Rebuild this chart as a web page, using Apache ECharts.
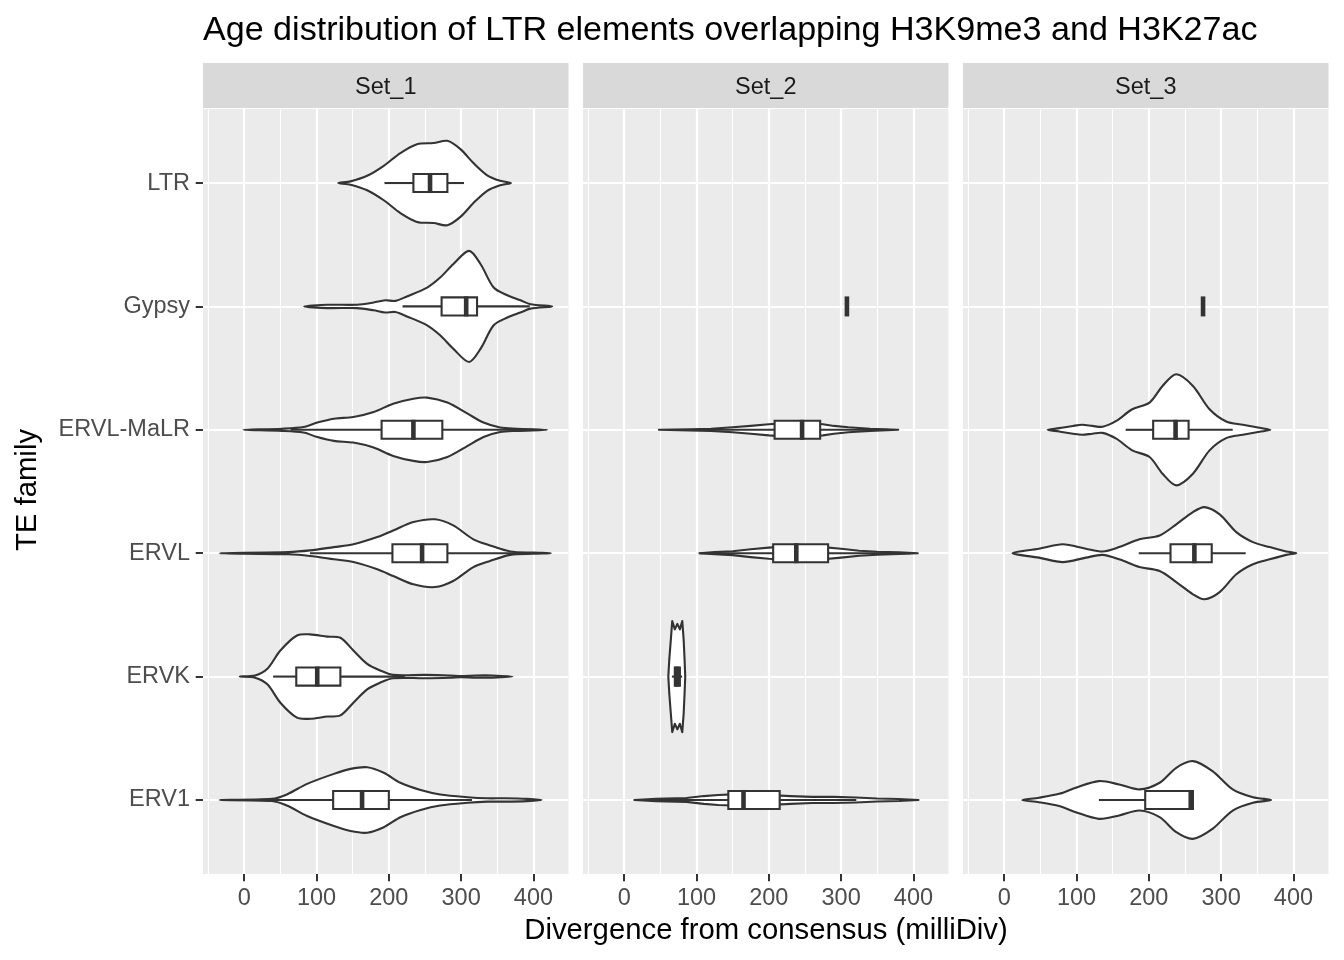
<!DOCTYPE html>
<html><head><meta charset="utf-8">
<script src="https://cdn.jsdelivr.net/npm/echarts@6/dist/echarts.min.js"></script>
<style>html,body{margin:0;padding:0;background:#fff}#c{width:1344px;height:960px}</style>
</head><body><div id="c"></div>
<script>
// ---------- data ----------
const categories = ['ERV1', 'ERVK', 'ERVL', 'ERVL-MaLR', 'Gypsy', 'LTR'];
const panelNames = ['Set_1', 'Set_2', 'Set_3'];
const xMajorTicks = [0, 100, 200, 300, 400];
const xMinorTicks = [-50, 50, 150, 250, 350];
const titleText = 'Age distribution of LTR elements overlapping H3K9me3 and H3K27ac';
const xTitle = 'Divergence from consensus (milliDiv)';
const yTitle = 'TE family';

// violin profiles: positions (milliDiv) and relative half-widths (1 = widest in panel)
const s1_LTR_val = [130,147,170,193,216,239,262,281,299,317,336,354,369];
const s1_LTR_wid = [0,.03,.13,.31,.54,.70,.72,.76,.61,.36,.14,.04,0];
const s1_Gypsy_val = [83,115,156,179,195,209,225,253,271,289,311,327,345,364,382,396,426];
const s1_Gypsy_wid = [0,.03,.03,.07,.11,.10,.18,.34,.52,.76,1.0,.76,.34,.20,.11,.04,0];
const s1_ERVLMaLR_val = [-1,52,82,101,124,151,179,206,234,253,281,309,331,354,377,419];
const s1_ERVLMaLR_wid = [0,.02,.05,.13,.20,.23,.32,.47,.56,.58,.49,.29,.13,.04,.02,0];
const s1_ERVL_val = [-34,61,91,124,151,184,206,234,264,289,317,340,368,400,424];
const s1_ERVL_wid = [0,.02,.05,.11,.16,.29,.41,.56,.61,.50,.25,.14,.03,.01,0];
const s1_ERVK_val = [-6,15,32,50,73,91,115,133,151,170,188,206,250,285,300,320,343,371];
const s1_ERVK_wid = [0,.02,.14,.47,.74,.76,.72,.70,.47,.23,.11,.03,.03,.02,.01,.02,.02,0];
const s1_ERV1_val = [-34,38,59,87,124,147,170,193,216,244,271,309,336,360,391,411];
const s1_ERV1_wid = [0,.02,.10,.29,.47,.56,.59,.49,.31,.18,.10,.05,.03,.03,.02,0];

const s2_ERVLMaLR_val = [48,90,120,150,175,200,225,250,275,290,310,340,379];
const s2_ERVLMaLR_wid = [0,.01,.02,.045,.07,.10,.12,.12,.10,.07,.045,.02,0];
const s2_ERVL_val = [104,125,150,175,200,225,250,275,300,325,350,380,406];
const s2_ERVL_wid = [0,.02,.035,.07,.10,.12,.12,.11,.08,.045,.027,.015,0];
const s2_ERVK_val = [61,62.3,64.5,66.4,70,73.5,77,80.3,82.2,83.5,84.4];
const s2_ERVK_wid = [0,.3,.67,1.0,.85,.95,.85,1.0,.67,.3,0];
const s2_ERV1_val = [14,44,86,110,130,150,170,200,230,260,290,320,350,380,407];
const s2_ERV1_wid = [0,.02,.035,.07,.09,.10,.10,.09,.07,.055,.055,.045,.027,.018,0];

const s3_ERVLMaLR_val = [60,76,95,108,122,136,155,177,201,219,238,261,284,307,330,353,368];
const s3_ERVLMaLR_wid = [0,.03,.07,.09,.07,.055,.16,.37,.49,.79,1.0,.79,.37,.15,.09,.036,0];
const s3_ERVL_val = [11.5,48,81,113,136,159,187,215,238,261,277,298,321,344,367,390,404];
const s3_ERVL_wid = [0,.08,.16,.08,.03,.11,.25,.32,.52,.74,.83,.70,.38,.20,.11,.03,0];
const s3_ERV1_val = [25,48,76,99,131,159,187,215,238,261,288,316,344,369];
const s3_ERV1_wid = [0,.04,.11,.22,.34,.28,.19,.31,.58,.70,.52,.19,.05,0];

// boxplot stats: [family, lower whisker, q1, median, q3, upper whisker]
const s1_box = [
  ['LTR', 194, 234, 257, 281, 304],
  ['Gypsy', 219, 273, 307, 322, 395],
  ['ERVL-MaLR', 64, 190, 234, 274, 400],
  ['ERVL', 91, 205, 246, 281, 395],
  ['ERVK', 40, 72, 101, 133, 222],
  ['ERV1', 8, 123, 163, 200, 315]
];
const s2_box = [
  ['Gypsy', 308, 308, 308, 308, 308],
  ['ERVL-MaLR', 113, 208, 246, 271, 365],
  ['ERVL', 104, 206, 238, 282, 396],
  ['ERVK', 66, 70, 73, 77, 80],
  ['ERV1', 37, 144, 165, 215, 321]
];
const s3_box = [
  ['Gypsy', 275, 275, 275, 275, 275],
  ['ERVL-MaLR', 168, 206, 237, 255, 316],
  ['ERVL', 186, 230, 263, 287, 334],
  ['ERV1', 131, 195, 258, 261, 261]
];

// ---------- assembly ----------
const violins = [
  [
    {cat: 'LTR', val: s1_LTR_val, wid: s1_LTR_wid},
    {cat: 'Gypsy', val: s1_Gypsy_val, wid: s1_Gypsy_wid},
    {cat: 'ERVL-MaLR', val: s1_ERVLMaLR_val, wid: s1_ERVLMaLR_wid},
    {cat: 'ERVL', val: s1_ERVL_val, wid: s1_ERVL_wid},
    {cat: 'ERVK', val: s1_ERVK_val, wid: s1_ERVK_wid},
    {cat: 'ERV1', val: s1_ERV1_val, wid: s1_ERV1_wid}
  ],
  [
    {cat: 'ERVL-MaLR', val: s2_ERVLMaLR_val, wid: s2_ERVLMaLR_wid},
    {cat: 'ERVL', val: s2_ERVL_val, wid: s2_ERVL_wid},
    {cat: 'ERVK', val: s2_ERVK_val, wid: s2_ERVK_wid},
    {cat: 'ERV1', val: s2_ERV1_val, wid: s2_ERV1_wid}
  ],
  [
    {cat: 'ERVL-MaLR', val: s3_ERVLMaLR_val, wid: s3_ERVLMaLR_wid},
    {cat: 'ERVL', val: s3_ERVL_val, wid: s3_ERVL_wid},
    {cat: 'ERV1', val: s3_ERV1_val, wid: s3_ERV1_wid}
  ]
];
const boxes = [s1_box, s2_box, s3_box];

const FONT = '"Liberation Sans", Arial, Helvetica, sans-serif';
const PANEL_LEFT = [203, 583, 963];
const PANEL_W = 365.5;
const PANEL_TOP = 109;
const PANEL_H = 765;
const X_MIN = -57, X_MAX = 448.5;
const HALF = 0.45;      // max violin half-width (category units)
const BOX_HALF = 0.073; // box half-height
const INK = '#333333';

const catPos = c => categories.indexOf(c) + 1;

const grids = [], xAxes = [], yAxes = [], series = [], graphics = [];
for (let p = 0; p < 3; p++) {
  grids.push({left: PANEL_LEFT[p], top: PANEL_TOP, width: PANEL_W, height: PANEL_H,
    show: true, backgroundColor: '#EBEBEB', borderWidth: 0});
  xAxes.push({
    type: 'value', gridIndex: p, min: X_MIN, max: X_MAX, position: 'bottom',
    axisLine: {show: false, onZero: false},
    axisTick: {show: true, customValues: xMajorTicks, length: 7.3, lineStyle: {color: INK, width: 2}},
    axisLabel: {show: true, customValues: xMajorTicks, color: '#4D4D4D', fontSize: 23.5, fontFamily: FONT, margin: 13},
    splitLine: {show: true, lineStyle: {color: '#FFFFFF', width: 2.2}}
  });
  xAxes.push({
    type: 'value', gridIndex: p, min: X_MIN, max: X_MAX, position: 'top',
    axisLine: {show: false, onZero: false},
    axisTick: {show: false, customValues: xMinorTicks},
    axisLabel: {show: false, customValues: xMinorTicks},
    splitLine: {show: true, lineStyle: {color: '#FFFFFF', width: 1.1}}
  });
  yAxes.push({
    type: 'value', gridIndex: p, min: 0.4, max: 6.6, position: 'left',
    axisLine: {show: false, onZero: false},
    axisTick: {show: p === 0, customValues: [1,2,3,4,5,6], length: 7.3, lineStyle: {color: INK, width: 2}},
    axisLabel: {show: p === 0, customValues: [1,2,3,4,5,6], color: '#4D4D4D', fontSize: 23.5, fontFamily: FONT, margin: 13,
      formatter: v => categories[Math.round(v) - 1]},
    splitLine: {show: true, lineStyle: {color: '#FFFFFF', width: 2.2}}
  });

  const vl = violins[p];
  series.push({
    type: 'custom', xAxisIndex: p * 2, yAxisIndex: p, silent: true, z: 2,
    data: vl.map(d => [d.val[0], catPos(d.cat)]),
    renderItem: (params, api) => {
      const d = vl[params.dataIndex];
      const yc = catPos(d.cat);
      const n = d.val.length;
      const pts = [];
      for (let i = 0; i < n; i++) pts.push(api.coord([d.val[i], yc + d.wid[i] * HALF]));
      for (let i = n - 2; i >= 1; i--) pts.push(api.coord([d.val[i], yc - d.wid[i] * HALF]));
      return {type: 'polygon', shape: {points: pts, smooth: p === 1 ? 0 : 0.3},
        style: {fill: '#FFFFFF', stroke: INK, lineWidth: 2.1, lineJoin: 'round'}};
    }
  });

  const bx = boxes[p];
  series.push({
    type: 'custom', xAxisIndex: p * 2, yAxisIndex: p, silent: true, z: 3,
    data: bx.map(b => [catPos(b[0]), b[1], b[2], b[3], b[4], b[5]]),
    encode: {y: 0, x: [1, 2, 3, 4, 5]},
    renderItem: (params, api) => {
      const y = api.value(0);
      const lo = api.value(1), q1 = api.value(2), md = api.value(3), q3 = api.value(4), hi = api.value(5);
      const a = api.coord([q1, y + BOX_HALF]);
      const b = api.coord([q3, y - BOX_HALF]);
      const c = api.coord([lo, y]), e = api.coord([hi, y]);
      const m1 = api.coord([md, y + BOX_HALF]), m2 = api.coord([md, y - BOX_HALF]);
      const ls = {stroke: INK, lineWidth: 2.1};
      return {type: 'group', children: [
        {type: 'line', shape: {x1: c[0], y1: c[1], x2: a[0], y2: c[1]}, style: ls},
        {type: 'line', shape: {x1: b[0], y1: e[1], x2: e[0], y2: e[1]}, style: ls},
        {type: 'rect', shape: {x: a[0], y: a[1], width: b[0] - a[0], height: b[1] - a[1]},
          style: {fill: '#FFFFFF', stroke: INK, lineWidth: 2.1}},
        {type: 'line', shape: {x1: m1[0], y1: m1[1] - 1, x2: m2[0], y2: m2[1] + 1}, style: {stroke: INK, lineWidth: 4.6}}
      ]};
    }
  });

  // facet strip
  graphics.push({type: 'rect', shape: {x: PANEL_LEFT[p], y: 63, width: PANEL_W, height: 45}, style: {fill: '#D9D9D9'}, silent: true});
  graphics.push({type: 'text', x: PANEL_LEFT[p] + PANEL_W / 2, y: 88,
    style: {text: panelNames[p], fontSize: 23.5, fontFamily: FONT, fill: '#1A1A1A', align: 'center', verticalAlign: 'middle'}});
}

graphics.push({type: 'text', x: 203, y: 31,
  style: {text: titleText, fontSize: 34.1, fontFamily: FONT, fill: '#000000', align: 'left', verticalAlign: 'middle'}});
graphics.push({type: 'text', x: 766, y: 931,
  style: {text: xTitle, fontSize: 29.3, fontFamily: FONT, fill: '#000000', align: 'center', verticalAlign: 'middle'}});
graphics.push({type: 'text', x: 28, y: 490, rotation: Math.PI / 2,
  style: {text: yTitle, fontSize: 29.3, fontFamily: FONT, fill: '#000000', align: 'center', verticalAlign: 'middle'}});

const chart = echarts.init(document.getElementById('c'), null, {renderer: 'canvas'});
chart.setOption({
  animation: false,
  backgroundColor: '#FFFFFF',
  grid: grids,
  xAxis: xAxes,
  yAxis: yAxes,
  series: series,
  graphic: graphics
});
</script>
</body></html>
